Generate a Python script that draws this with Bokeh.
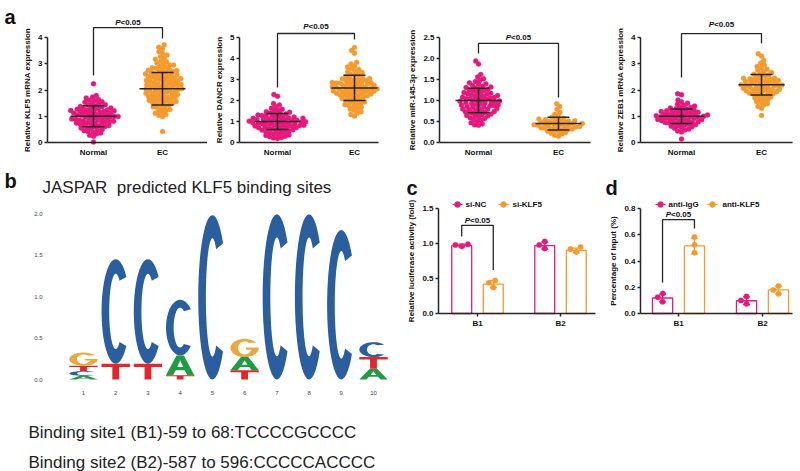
import math
import numpy as np
from bokeh.plotting import figure
from bokeh.layouts import row, column
from bokeh.models import Range1d, FixedTicker, NumeralTickFormatter, ColumnDataSource
from bokeh.embed import file_html
from bokeh.resources import INLINE
from bokeh.core.properties import value

# ---------------- data ----------------
groups_a = ["Normal", "EC"]

a1_normal = [2.24, 1.79, 1.73, 1.70, 1.64, 1.61, 1.60, 1.55, 1.53, 1.49, 1.48, 1.44, 1.43, 1.40, 1.37, 1.36,
             1.34, 1.31, 1.30, 1.29, 1.27, 1.25, 1.24, 1.24, 1.22, 1.21, 1.19, 1.18, 1.17, 1.15, 1.14, 1.12,
             1.12, 1.10, 1.08, 1.07, 1.06, 1.04, 1.03, 1.02, 1.00, 0.99, 0.99, 0.97, 0.96, 0.94, 0.93, 0.92,
             0.90, 0.89, 0.88, 0.86, 0.85, 0.84, 0.82, 0.81, 0.80, 0.78, 0.76, 0.75, 0.74, 0.72, 0.70, 0.69,
             0.67, 0.65, 0.64, 0.61, 0.60, 0.57, 0.55, 0.53, 0.50, 0.48, 0.45, 0.42, 0.40, 0.36, 0.33, 0.28,
             0.24, 0.02]
a1_ec = [3.72, 3.63, 3.58, 3.46, 3.40, 3.33, 3.27, 3.22, 3.17, 3.12, 3.08, 3.03, 2.99, 2.95, 2.92, 2.88,
         2.85, 2.81, 2.78, 2.75, 2.72, 2.69, 2.66, 2.64, 2.61, 2.58, 2.56, 2.53, 2.51, 2.48, 2.46, 2.43,
         2.41, 2.38, 2.36, 2.33, 2.31, 2.28, 2.26, 2.24, 2.21, 2.19, 2.16, 2.14, 2.12, 2.09, 2.07, 2.04,
         2.02, 2.00, 1.97, 1.95, 1.93, 1.90, 1.88, 1.86, 1.83, 1.81, 1.79, 1.76, 1.74, 1.71, 1.69, 1.66,
         1.64, 1.61, 1.58, 1.56, 1.53, 1.50, 1.48, 1.45, 1.42, 1.39, 1.36, 1.33, 1.30, 1.26, 1.23, 1.19,
         1.15, 1.11, 1.07, 1.03, 0.99, 0.42, 2.70, 2.50, 2.35, 2.18, 2.05, 1.92, 1.75, 1.60, 2.95, 2.83,
         2.74, 2.62, 2.55, 2.44, 2.30, 2.22, 2.10, 1.98, 1.85, 1.70, 1.55, 2.40, 2.15]

a2_normal = [2.28, 2.20, 1.86, 1.78, 1.70, 1.63, 1.58, 1.55, 1.50, 1.47, 1.44, 1.41, 1.38, 1.36, 1.33, 1.31,
             1.29, 1.27, 1.25, 1.23, 1.21, 1.20, 1.18, 1.16, 1.15, 1.13, 1.12, 1.10, 1.09, 1.07, 1.06, 1.05,
             1.03, 1.02, 1.01, 0.99, 0.98, 0.97, 0.95, 0.94, 0.93, 0.92, 0.90, 0.89, 0.88, 0.86, 0.85, 0.84,
             0.82, 0.81, 0.79, 0.78, 0.77, 0.75, 0.74, 0.72, 0.70, 0.69, 0.67, 0.65, 0.63, 0.61, 0.59, 0.57,
             0.55, 0.52, 0.50, 0.47, 0.45, 0.42, 0.39, 0.36, 0.33, 0.30, 0.27, 0.24, 0.21, 0.19]
a2_ec = [4.52, 4.38, 4.25, 3.82, 3.74, 3.66, 3.60, 3.54, 3.48, 3.43, 3.38, 3.33, 3.29, 3.25, 3.21, 3.17,
         3.13, 3.10, 3.06, 3.03, 3.00, 2.97, 2.94, 2.91, 2.88, 2.85, 2.83, 2.80, 2.77, 2.75, 2.72, 2.69,
         2.67, 2.64, 2.62, 2.59, 2.57, 2.54, 2.52, 2.49, 2.47, 2.44, 2.42, 2.39, 2.37, 2.34, 2.31, 2.29,
         2.26, 2.23, 2.21, 2.18, 2.15, 2.12, 2.09, 2.06, 2.03, 2.00, 1.97, 1.94, 1.91, 1.87, 1.84, 1.80,
         1.76, 1.72, 1.68, 1.63, 1.58, 1.52, 1.46, 1.40, 1.33, 1.26, 2.95, 2.86, 2.78, 2.70, 2.63, 2.55,
         2.48, 2.40, 2.33, 2.25, 2.60, 2.82, 3.05, 2.45]

a3_normal = [1.94, 1.87, 1.62, 1.56, 1.52, 1.48, 1.45, 1.42, 1.39, 1.36, 1.34, 1.32, 1.30, 1.28, 1.26, 1.24,
             1.22, 1.21, 1.19, 1.18, 1.16, 1.15, 1.13, 1.12, 1.11, 1.09, 1.08, 1.07, 1.06, 1.04, 1.03, 1.02,
             1.01, 1.00, 0.99, 0.98, 0.96, 0.95, 0.94, 0.93, 0.92, 0.90, 0.89, 0.88, 0.87, 0.85, 0.84, 0.83,
             0.81, 0.80, 0.79, 0.77, 0.76, 0.74, 0.73, 0.71, 0.70, 0.68, 0.66, 0.65, 0.63, 0.61, 0.59, 0.57,
             0.55, 0.53, 0.50, 0.47, 0.44, 0.42, 0.41, 1.25, 1.17, 1.10, 1.05, 0.97, 0.91, 0.86, 0.78, 0.72,
             0.64, 1.31, 1.40]
a3_ec = [0.92, 0.86, 0.79, 0.72, 0.67, 0.63, 0.60, 0.58, 0.56, 0.54, 0.53, 0.51, 0.50, 0.48, 0.47, 0.46,
         0.45, 0.44, 0.43, 0.42, 0.41, 0.40, 0.39, 0.38, 0.37, 0.36, 0.35, 0.34, 0.33, 0.31, 0.30, 0.29,
         0.27, 0.26, 0.24, 0.22, 0.20, 0.17, 0.15, 0.52, 0.45, 0.41, 0.37, 0.32, 0.48, 0.55]

a4_normal = [1.86, 1.82, 1.62, 1.55, 1.50, 1.46, 1.42, 1.39, 1.36, 1.33, 1.31, 1.29, 1.27, 1.25, 1.23, 1.21,
             1.20, 1.18, 1.17, 1.15, 1.14, 1.12, 1.11, 1.10, 1.08, 1.07, 1.06, 1.05, 1.03, 1.02, 1.01, 1.00,
             0.99, 0.98, 0.97, 0.96, 0.94, 0.93, 0.92, 0.91, 0.90, 0.88, 0.87, 0.86, 0.85, 0.83, 0.82, 0.81,
             0.79, 0.78, 0.76, 0.75, 0.73, 0.72, 0.70, 0.68, 0.66, 0.64, 0.62, 0.60, 0.57, 0.54, 0.51, 0.48,
             0.44, 0.40, 0.13]
a4_ec = [3.38, 3.29, 3.12, 3.02, 2.95, 2.90, 2.84, 2.79, 2.75, 2.71, 2.67, 2.63, 2.60, 2.57, 2.54, 2.51,
         2.48, 2.46, 2.43, 2.41, 2.39, 2.36, 2.34, 2.32, 2.30, 2.28, 2.26, 2.24, 2.22, 2.20, 2.19, 2.17,
         2.15, 2.13, 2.11, 2.09, 2.07, 2.05, 2.03, 2.01, 1.99, 1.97, 1.95, 1.93, 1.91, 1.88, 1.86, 1.84,
         1.81, 1.79, 1.76, 1.73, 1.70, 1.67, 1.64, 1.60, 1.56, 1.52, 1.48, 1.43, 1.37, 1.30, 1.03, 2.40,
         2.35, 2.25, 2.18, 2.12, 2.45, 2.02, 1.92]

a1_mean = [1.00, 2.05]
a1_sd = [0.40, 0.62]
a2_mean = [1.00, 2.60]
a2_sd = [0.38, 0.60]
a3_mean = [1.00, 0.45]
a3_sd = [0.29, 0.15]
a4_mean = [1.00, 2.20]
a4_sd = [0.28, 0.39]

a_ylabels = ["Relative KLF5 mRNA expression", "Relative DANCR expression",
             "Relative miR-145-3p expression", "Relative ZEB1 mRNA expression"]
a_yticks = [[0, 1, 2, 3, 4], [0, 1, 2, 3, 4, 5], [0, 0.5, 1.0, 1.5, 2.0, 2.5], [0, 1, 2, 3, 4]]
# bracket: [left leg bottom, top, right leg bottom, text y]
a_bracket = [[2.55, 4.38, 3.96, 4.57], [2.62, 5.19, 4.90, 5.52], [2.12, 2.36, 1.07, 2.50], [2.48, 4.15, 3.77, 4.50]]
p_text = "<0.05"

# sequence logo (bits per letter, positions 1..10)
logo_pos = [1, 2, 3, 4, 5, 6, 7, 8, 9, 10]
logo_A = [0.045, 0, 0, 0.24, 0, 0.16, 0, 0, 0, 0.13]
logo_C = [0.055, 1.26, 1.26, 0.67, 1.98, 0, 1.99, 1.99, 1.80, 0.18]
logo_G = [0.16, 0, 0, 0, 0, 0.22, 0, 0, 0, 0]
logo_T = [0.065, 0.19, 0.19, 0.05, 0, 0.11, 0, 0, 0, 0.14]
logo_yticks = [0, 0.5, 1.0, 1.5, 2.0]
logo_title = "JASPAR\u00a0 predicted KLF5 binding sites"
site_texts = ["Binding site1 (B1)-59 to 68:TCCCCGCCCC", "Binding site2 (B2)-587 to 596:CCCCCACCCC"]
panel_letters = ["a", "b", "c", "d"]

bar_groups = ["B1", "B2"]
c_series = ["si-NC", "si-KLF5"]
c_nc_mean = [0.97, 0.97]
c_nc_sd = [0.02, 0.05]
c_klf5_mean = [0.42, 0.90]
c_klf5_sd = [0.05, 0.035]
c_nc_pts = [[0.99, 0.98, 0.96], [0.98, 1.03, 0.93]]
c_klf5_pts = [[0.44, 0.47, 0.37], [0.95, 0.92, 0.88]]
c_yticks = [0.0, 0.5, 1.0, 1.5]
c_bracket = [1.10, 1.26, 0.62, 1.33]

d_series = ["anti-IgG", "anti-KLF5"]
d_igg_mean = [0.118, 0.097]
d_igg_sd = [0.03, 0.03]
d_klf5_mean = [0.515, 0.18]
d_klf5_sd = [0.06, 0.03]
d_igg_pts = [[0.123, 0.153, 0.09], [0.10, 0.13, 0.074]]
d_klf5_pts = [[0.583, 0.524, 0.463], [0.18, 0.21, 0.15]]
d_yticks = [0.0, 0.2, 0.4, 0.6, 0.8]
d_bracket = [0.236, 0.716, 0.648, 0.754]

# ---------------- style ----------------
PINK = "#e6197c"
ORANGE = "#f59a2c"
DARK = "#262626"
FONT = "Liberation Sans"
LOGO_COL = {"A": "#1f9a45", "C": "#2b5e9e", "G": "#eaa73c", "T": "#e4262a"}


def mapping(page, xmap, ymap):
    (va, pa), (vb, pb) = xmap
    sx = (pb - pa) / (vb - va)
    (wa, qa), (wb, qb) = ymap
    sy = (qa - qb) / (wb - wa)
    l, t, r, b = page
    return dict(page=page, sx=sx, sy=sy,
                x0=va + (l - pa) / sx, x1=va + (r - pa) / sx,
                y0=wa - (b - qa) / sy, y1=wa + (qa - t) / sy,
                px=lambda X: va + (X - pa) / sx, py=lambda Y: wa + (qa - Y) / sy)


def new_fig(m):
    fx0, fy0, fx1, fy1 = m["page"]
    p = figure(width=fx1 - fx0, height=fy1 - fy0,
               x_range=Range1d(m["x0"], m["x1"]), y_range=Range1d(m["y0"], m["y1"]),
               toolbar_location=None, output_backend="svg",
               min_border_left=0, min_border_right=0, min_border_top=0, min_border_bottom=0)
    p.xgrid.visible = False
    p.ygrid.visible = False
    p.outline_line_color = None
    p.background_fill_color = "white"
    p.border_fill_color = "white"
    return p


def add_text(p, m, X, Y, text, size, style="normal", color="#111111"):
    p.text(x=[m["px"](X)], y=[m["py"](Y)], text=[text], text_font=value(FONT), text_font_size=size,
           text_font_style=style, text_color=color, text_align="left", text_baseline="alphabetic")


def style_axis(ax, size="8px", style="bold", tick_out=3, standoff=2):
    ax.axis_line_color = DARK
    ax.axis_line_width = 1.5
    ax.major_tick_line_color = DARK
    ax.major_tick_line_width = 1.5
    ax.major_tick_out = tick_out
    ax.major_tick_in = 0
    ax.minor_tick_line_color = None
    ax.minor_tick_out = 0
    ax.major_label_text_font = FONT
    ax.major_label_text_font_size = size
    ax.major_label_text_font_style = style
    ax.major_label_text_color = "#111111"
    ax.major_label_standoff = standoff
    ax.axis_label_text_font = FONT
    ax.axis_label_text_font_size = "8px"
    ax.axis_label_text_font_style = "bold"
    ax.axis_label_text_color = "#111111"
    ax.axis_label_standoff = 3


def swarm(vals, sy, d):
    vals = np.asarray(vals, dtype=float)
    out = np.zeros(len(vals))
    placed = []
    for i in np.argsort(vals, kind="stable"):
        y = vals[i] * sy
        iv = []
        for (py, pxx) in placed:
            dy = abs(py - y)
            if dy < d:
                h = math.sqrt(d * d - dy * dy)
                iv.append((pxx - h, pxx + h))
        cands = [0.0] + [a for a, _ in iv] + [bb for _, bb in iv]
        cands.sort(key=lambda c: (abs(c), c))
        for c in cands:
            if all(not (a + 1e-9 < c < bb - 1e-9) for a, bb in iv):
                out[i] = c
                break
        placed.append((y, out[i]))
    return out


def p_label(p, x, y):
    p.text(x=[x], y=[y], text=["P"], text_font=value(FONT), text_font_size="8px",
           text_font_style="bold italic", text_align="right", text_baseline="middle",
           x_offset=-7.5, text_color="#111111")
    p.text(x=[x], y=[y], text=[p_text], text_font=value(FONT), text_font_size="8px",
           text_font_style="bold", text_align="left", text_baseline="middle",
           x_offset=-7.5, text_color="#111111")


# ---------------- panel a ----------------
A_LAYOUT = [
    dict(page=(0, 0, 207, 165), axl=47, xs=(93, 162), y=((0, 142), (4, 37)), axr=207),
    dict(page=(207, 0, 400, 165), axl=239, xs=(277, 354), y=((0, 142), (5, 37)), axr=378),
    dict(page=(400, 0, 600, 165), axl=439, xs=(478, 558), y=((0, 142), (2.5, 37)), axr=590),
    dict(page=(600, 0, 800, 165), axl=640, xs=(681, 761), y=((0, 142), (4, 37)), axr=792),
]
a_data = [(a1_normal, a1_ec, a1_mean, a1_sd), (a2_normal, a2_ec, a2_mean, a2_sd),
          (a3_normal, a3_ec, a3_mean, a3_sd), (a4_normal, a4_ec, a4_mean, a4_sd)]

top_figs = []
for k, L in enumerate(A_LAYOUT):
    m = mapping(L["page"], ((0, L["xs"][0]), (1, L["xs"][1])), L["y"])
    p = new_fig(m)
    normal, ec, means, sds = a_data[k]
    for gi, (vals, col) in enumerate([(normal, PINK), (ec, ORANGE)]):
        offs = swarm(vals, m["sy"], 4.0)
        p.scatter(x=gi + offs / m["sx"], y=vals, size=5, fill_color=col, line_color=col,
                  line_width=0.3, marker="circle")
    hw_mean = 23 / m["sx"]
    hw_cap = 11 / m["sx"]
    for gi in range(2):
        mu, sd = means[gi], sds[gi]
        p.segment(x0=[gi - hw_mean, gi - hw_cap, gi - hw_cap, gi], x1=[gi + hw_mean, gi + hw_cap, gi + hw_cap, gi],
                  y0=[mu, mu + sd, mu - sd, mu - sd], y1=[mu, mu + sd, mu - sd, mu + sd],
                  line_color=DARK, line_width=1.5)
    bl, bt, br, ty = a_bracket[k]
    p.line(x=[0, 0, 1, 1], y=[bl, bt, bt, br], line_color=DARK, line_width=1.3)
    p_label(p, 0.5, ty)
    style_axis(p.xaxis, tick_out=0, standoff=5)
    style_axis(p.yaxis)
    p.xaxis.ticker = FixedTicker(ticks=[0, 1])
    p.xaxis.major_label_overrides = {0: groups_a[0], 1: groups_a[1]}
    p.xaxis.fixed_location = 0
    p.xaxis.bounds = (m["px"](L["axl"]), m["px"](L["axr"]))
    p.yaxis.ticker = FixedTicker(ticks=a_yticks[k])
    p.yaxis.fixed_location = m["px"](L["axl"])
    p.yaxis.bounds = (0, a_yticks[k][-1])
    if k == 2:
        p.yaxis.formatter = NumeralTickFormatter(format="0.0")
    p.yaxis.axis_label = a_ylabels[k]
    if k == 0:
        add_text(p, m, 4, 16, panel_letters[0], "20px", "bold")
    top_figs.append(p)

# ---------------- panel b ----------------
def c_rings(a0=0.72, a1=0.95, tx=0.27, ty=0.14, n=40):
    ang_o = np.linspace(a0, 2 * np.pi - a0, n)
    ang_i = np.linspace(2 * np.pi - a1, a1, n)
    xs = list(0.5 + 0.5 * np.cos(ang_o)) + list(0.5 + (0.5 - tx) * np.cos(ang_i))
    ys = list(0.5 + 0.5 * np.sin(ang_o)) + list(0.5 + (0.5 - ty) * np.sin(ang_i))
    return [(xs, ys)]


def g_rings(a0=0.62, a1=0.85, tx=0.27, ty=0.14, n=40):
    ang_o = np.linspace(a0, 2 * np.pi, n)
    ang_i = np.linspace(2 * np.pi - 0.55, a1, n)
    xs = list(0.5 + 0.5 * np.cos(ang_o)) + [1.0, 0.55, 0.55, 0.76] + list(0.5 + (0.5 - tx) * np.cos(ang_i))
    ys = list(0.5 + 0.5 * np.sin(ang_o)) + [0.52, 0.52, 0.40, 0.40] + list(0.5 + (0.5 - ty) * np.sin(ang_i))
    return [(xs, ys)]


SHAPES = {
    "C": c_rings(),
    "G": g_rings(),
    "T": [([0, 1, 1, 0.62, 0.62, 0.38, 0.38, 0], [1, 1, 0.8, 0.8, 0, 0, 0.8, 0.8])],
    "A": [([0, 0.37, 0.63, 1, 0.75, 0.66, 0.34, 0.25], [0, 1, 1, 0, 0, 0.25, 0.25, 0]),
          ([0.40, 0.5, 0.60], [0.42, 0.76, 0.42])],
}

mb = mapping((0, 165, 405, 471), ((1, 83), (10, 373)), ((0, 379), (2, 213)))
pb = new_fig(mb)
LW = 0.88
mxs, mys, mcol = [], [], []
for i, pos in enumerate(logo_pos):
    stack = sorted([(h, Lt) for Lt, h in (("A", logo_A[i]), ("C", logo_C[i]), ("G", logo_G[i]), ("T", logo_T[i])) if h > 0])
    base = 0.0
    for h, Lt in stack:
        rings = SHAPES[Lt]
        mxs.append([[[pos - LW / 2 + LW * t for t in rg[0]] for rg in rings]])
        mys.append([[[base + h * t for t in rg[1]] for rg in rings]])
        mcol.append(LOGO_COL[Lt])
        base += h
pb.multi_polygons(xs="xs", ys="ys", fill_color="c", line_color=None,
                  source=ColumnDataSource(dict(xs=mxs, ys=mys, c=mcol)))
style_axis(pb.xaxis, size="6px", style="normal", tick_out=0, standoff=7)
style_axis(pb.yaxis, size="6px", style="normal", tick_out=0, standoff=6)
for ax in (pb.xaxis, pb.yaxis):
    ax.axis_line_color = None
    ax.major_tick_line_color = None
    ax.major_label_text_color = "#444444"
pb.xaxis.ticker = FixedTicker(ticks=logo_pos)
pb.xaxis.fixed_location = mb["py"](383)
pb.yaxis.ticker = FixedTicker(ticks=logo_yticks)
pb.yaxis.fixed_location = mb["px"](48)
pb.yaxis.formatter = NumeralTickFormatter(format="0.0")
add_text(pb, mb, 4, 180, panel_letters[1], "20px", "bold")
add_text(pb, mb, 42, 187, logo_title, "17px", "normal", "#222222")
add_text(pb, mb, 28, 432, site_texts[0], "17px", "normal", "#222222")
add_text(pb, mb, 28, 462, site_texts[1], "17px", "normal", "#222222")


# ---------------- panels c, d ----------------
def bar_panel(m, axl, axr, means_l, sds_l, pts_l, series, yticks, ylabel, bracket, legend_px, letter):
    p = new_fig(m)
    off = 0.19
    cols = [PINK, ORANGE]
    for si in range(2):
        xs = [g + (2 * si - 1) * off for g in range(len(bar_groups))]
        p.vbar(x=xs, top=means_l[si], width=0.24, bottom=0, fill_color="white",
               line_color=cols[si], line_width=1.3)
        for gi in range(len(bar_groups)):
            offs = swarm(pts_l[si][gi], m["sy"], 6.5)
            p.scatter(x=xs[gi] + offs / m["sx"], y=pts_l[si][gi], size=5.5,
                      fill_color=cols[si], line_color=cols[si], line_width=0.3)
            mu, sd = means_l[si][gi], sds_l[si][gi]
            cw = 3.5 / m["sx"]
            p.segment(x0=[xs[gi], xs[gi] - cw, xs[gi] - cw], x1=[xs[gi], xs[gi] + cw, xs[gi] + cw],
                      y0=[mu - sd, mu + sd, mu - sd], y1=[mu + sd, mu + sd, mu - sd],
                      line_color=cols[si], line_width=1.2)
    bl, bt, br, ty = bracket
    p.line(x=[-off, -off, off, off], y=[bl, bt, bt, br], line_color=DARK, line_width=1.3)
    p_label(p, 0.0, ty)
    ly = m["py"](204)
    for si in range(2):
        mx, tx = legend_px[si]
        p.segment(x0=[m["px"](mx - 5)], x1=[m["px"](mx + 5)], y0=[ly], y1=[ly], line_color=cols[si], line_width=1.2)
        p.scatter(x=[m["px"](mx)], y=[ly], size=5.5, fill_color=cols[si], line_color=cols[si])
        p.text(x=[m["px"](tx)], y=[ly], text=[series[si]], text_font=value(FONT), text_font_size="8px",
               text_font_style="bold", text_align="left", text_baseline="middle", text_color="#111111")
    style_axis(p.xaxis, tick_out=3, standoff=2)
    style_axis(p.yaxis)
    p.xaxis.ticker = FixedTicker(ticks=[0, 1])
    p.xaxis.major_label_overrides = {0: bar_groups[0], 1: bar_groups[1]}
    p.xaxis.fixed_location = 0
    p.xaxis.bounds = (m["px"](axl), m["px"](axr))
    p.yaxis.ticker = FixedTicker(ticks=yticks)
    p.yaxis.formatter = NumeralTickFormatter(format="0.0")
    p.yaxis.fixed_location = m["px"](axl)
    p.yaxis.bounds = (0, yticks[-1])
    p.yaxis.axis_label = ylabel
    add_text(p, m, letter[0], letter[1], letter[2], "20px", "bold")
    return p


mc = mapping((405, 165, 603, 471), ((0, 477), (1, 560)), ((0, 313), (1.5, 208)))
pc = bar_panel(mc, 438, 595, [c_nc_mean, c_klf5_mean], [c_nc_sd, c_klf5_sd], [c_nc_pts, c_klf5_pts], c_series,
               c_yticks, "Relative luciferase activity (fold)", c_bracket, [(457, 465), (503, 512)],
               (406, 187, panel_letters[2]))

md = mapping((603, 165, 800, 471), ((0, 678), (1, 762)), ((0, 313), (0.8, 208)))
pd_ = bar_panel(md, 640, 792, [d_igg_mean, d_klf5_mean], [d_igg_sd, d_klf5_sd], [d_igg_pts, d_klf5_pts], d_series,
                d_yticks, "Percentage of Input (%)", d_bracket, [(660, 668), (712, 722)],
                (605, 187, panel_letters[3]))

layout = column(row(*top_figs), row(pb, pc, pd_))
open("out.html", "w").write(file_html(layout, INLINE))
